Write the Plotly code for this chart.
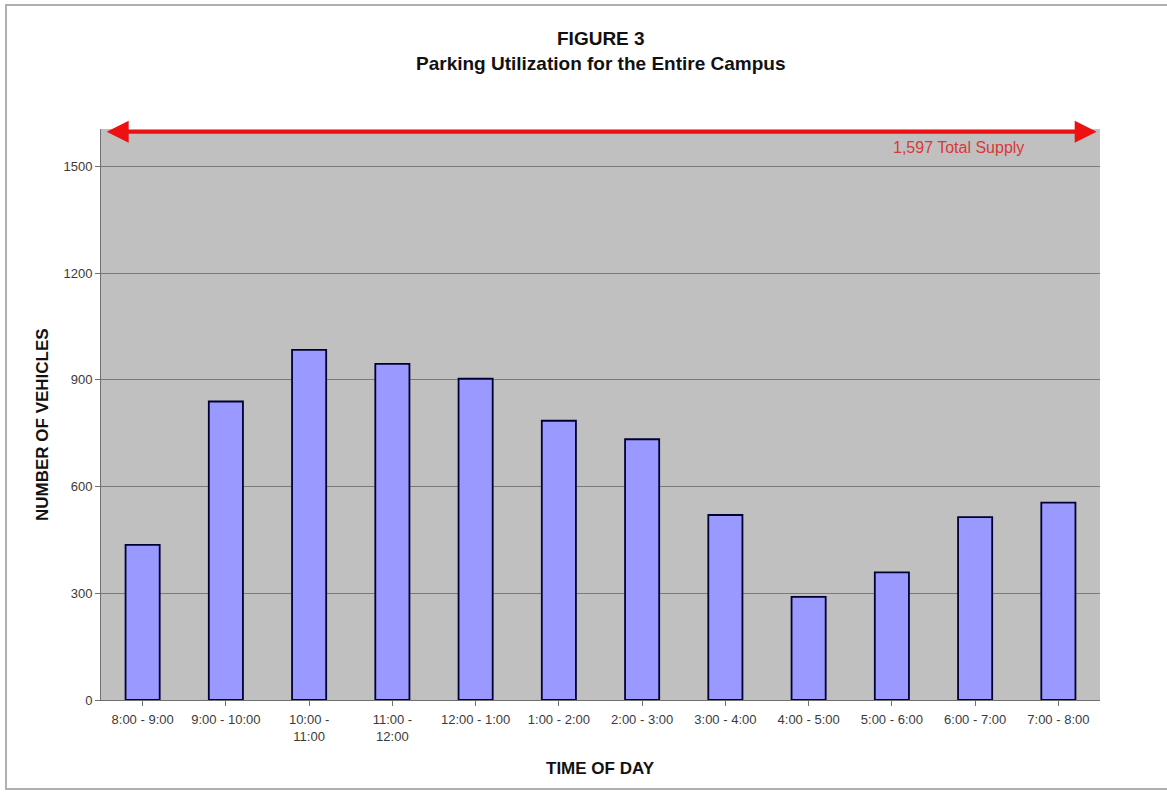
import plotly.graph_objects as go

# Hourly parking counts across the whole campus
time_slots = [
    "8:00 - 9:00", "9:00 - 10:00", "10:00 -<br>11:00", "11:00 -<br>12:00",
    "12:00 - 1:00", "1:00 - 2:00", "2:00 - 3:00", "3:00 - 4:00",
    "4:00 - 5:00", "5:00 - 6:00", "6:00 - 7:00", "7:00 - 8:00",
]
vehicles = [436, 839, 984, 945, 903, 785, 733, 520, 290, 359, 514, 555]
total_supply = 1597
y_ticks = [0, 300, 600, 900, 1200, 1500]

W, H = 1167, 796
ML, MR, MT, MB = 101, 67, 129, 96
PW, PH = W - ML - MR, H - MT - MB


def px_x(px):
    return (px - ML) / PW


def px_y(py):
    return (H - MB - py) / PH


font_family = "Liberation Sans, Arial, sans-serif"

fig = go.Figure()
fig.add_trace(go.Bar(
    x=list(range(len(time_slots))),
    y=vehicles,
    width=0.41,
    marker=dict(color="#9999FF", line=dict(color="#000033", width=1.8)),
    hoverinfo="y",
))

n = len(time_slots)
fig.update_layout(
    width=W, height=H,
    margin=dict(l=ML, r=MR, t=MT, b=MB),
    paper_bgcolor="white",
    plot_bgcolor="#C0C0C0",
    showlegend=False,
    font=dict(family=font_family, color="#333333"),
    xaxis=dict(
        tickmode="array",
        tickvals=list(range(n)),
        ticktext=time_slots,
        range=[-0.5, n - 0.5],
        showgrid=False,
        showline=True, linecolor="#707070", linewidth=1,
        ticks="outside", ticklen=5, tickcolor="#707070",
        tickfont=dict(size=13, color="#3a3a3a"),
        ticklabelstandoff=2,
        fixedrange=True,
    ),
    yaxis=dict(
        range=[0, 1605],
        tickvals=y_ticks,
        showgrid=True, gridcolor="#7a7a7a", gridwidth=1,
        zeroline=False,
        showline=True, linecolor="#707070", linewidth=1,
        ticks="outside", ticklen=5, tickcolor="#707070",
        tickfont=dict(size=13, color="#3a3a3a"),
        fixedrange=True,
    ),
)

# Boundary ticks between category slots on the x axis
fig.update_xaxes(tickson="boundaries")

annotations = [
    dict(text="<b>FIGURE 3</b>", xref="paper", yref="paper",
         x=0.5, y=px_y(38), xanchor="center", yanchor="middle", showarrow=False,
         font=dict(size=19, color="#111111")),
    dict(text="<b>Parking Utilization for the Entire Campus</b>", xref="paper", yref="paper",
         x=0.5, y=px_y(64), xanchor="center", yanchor="middle", showarrow=False,
         font=dict(size=19, color="#111111")),
    dict(text="<b>NUMBER OF VEHICLES</b>", xref="paper", yref="paper",
         x=px_x(42), y=px_y(425), xanchor="center", yanchor="middle",
         showarrow=False, textangle=-90,
         font=dict(size=17, color="#111111")),
    dict(text="<b>TIME OF DAY</b>", xref="paper", yref="paper",
         x=0.5, y=px_y(768), xanchor="center", yanchor="middle", showarrow=False,
         font=dict(size=17, color="#111111")),
    # double-headed supply arrow across the plot
    dict(x=n - 0.54, y=total_supply, ax=-0.45, ay=total_supply,
         xref="x", yref="y", axref="x", ayref="y",
         text="", showarrow=True, arrowside="end+start",
         arrowhead=2, arrowsize=1.1, arrowwidth=4, arrowcolor="#EE1111"),
    dict(text=f"{total_supply:,} Total Supply", xref="paper", yref="y",
         x=px_x(1026), y=total_supply, yshift=-16, xanchor="right", yanchor="middle",
         showarrow=False, font=dict(size=16, color="#D83838")),
]
fig.update_layout(annotations=annotations)

# Thin frame around the chart
fig.add_shape(type="rect", xref="paper", yref="paper",
              x0=px_x(6), x1=px_x(1175), y0=px_y(789), y1=px_y(5),
              line=dict(color="#B0B0B0", width=2), layer="below")

fig.write_html("out.html")
